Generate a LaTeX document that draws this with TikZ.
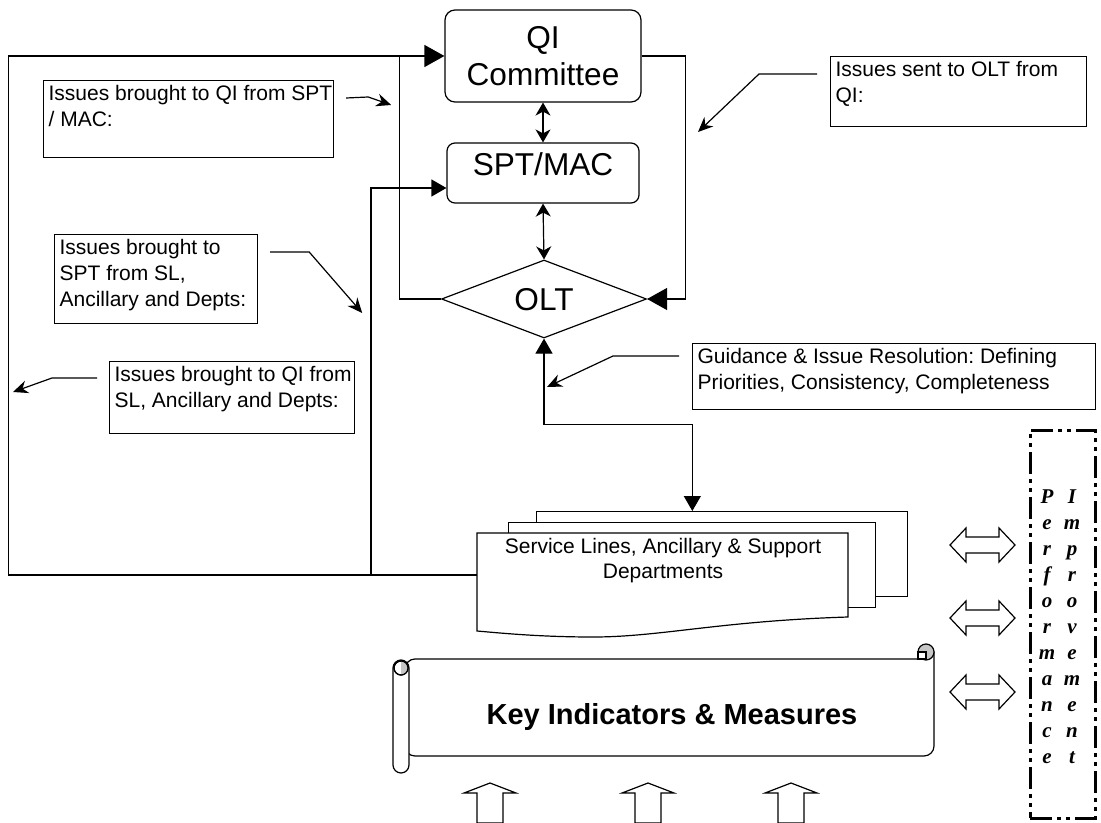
\documentclass[tikz,border=0pt]{standalone}
\usepackage{fontspec}
\setmainfont{Liberation Sans}
\newfontfamily\serifbi{Liberation Serif}
\usepackage{tikz}
\usetikzlibrary{arrows.meta, shapes.geometric, calc}
\frenchspacing

\newcommand{\notetext}[3]{\parbox[t][#2][t]{#1}{\raggedright\strut #3}}

\begin{document}
\begin{tikzpicture}[x=0.5pt, y=-0.5pt, line width=0.6pt,
  big/.tip={Triangle[length=10pt, width=11pt]},
  small/.tip={Triangle[length=7.5pt, width=8.5pt]},
  dbl/.tip={Stealth[length=6.5pt, width=7.5pt, inset=2pt]},
  callout/.tip={Stealth[length=7.5pt, width=6.5pt, inset=2.5pt]},
  unitbox/.style={draw, fill=white, inner sep=0pt, font=\fontsize{15.8}{18.5}\selectfont},
  notebox/.style={draw, anchor=north west, inner xsep=2.5pt, inner ysep=1pt, font=\fontsize{10.5}{13}\selectfont},
  lettercol/.style={align=center, inner sep=0pt, font=\serifbi\bfseries\itshape\fontsize{10.5}{13}\selectfont}]
  \path[use as bounding box, fill=white] (0,0) rectangle (1101,823);

  % committees
  \node[unitbox, rounded corners=5pt, minimum width=98pt, minimum height=46pt, align=center] (qi) at (543,56) {QI\\Committee};
  \node[unitbox, rounded corners=4pt, minimum width=96pt, text height=16.2pt, text depth=13.8pt] (spt) at (543,173) {SPT/MAC};
  \node[unitbox, diamond, minimum width=102.5pt, minimum height=39pt, text height=0pt, text depth=0pt] (olt) at (544,299) {\makebox[0pt]{\raisebox{-.5\height}{OLT}}};

  \draw[dbl-dbl] (qi.south) -- (spt.north);
  \draw[dbl-dbl] (spt.south) -- (olt.north);
  \draw[-big] (olt.west) -| ($(qi.west)+(-45,0)$) -- (qi.west);
  \draw[-big] (qi.east) -| ($(olt.east)+(38,0)$) -- (olt.east);

  % service lines (stacked documents)
  \node[unitbox, minimum width=185.5pt, minimum height=42.5pt, anchor=north west] (slback) at (536,511) {};
  \node[unitbox, minimum width=183.5pt, minimum height=42.5pt, anchor=north west] (slmid) at (508,522) {};
  \draw[fill=white] (477,533) -- (848,533) -- (848,617) .. controls (720,621) and (660,637) .. (593,637) .. controls (540,637) and (500,633) .. (477,631) -- cycle;
  \node[align=center, font=\fontsize{10.5}{12.5}\selectfont] (sl) at (663,561) {Service Lines, Ancillary \& Support\\Departments};
  \coordinate (slin) at ($(slback.north west)!.42!(slback.north east)$);
  \coordinate (sldoor) at (477,575);

  \draw[small-small] (olt.south) |- ($(olt.south)!.5!(slin)$) -| (slin);
  \draw (sldoor) -| ($(qi.west)+(-436,0)$) -- ($(qi.west)+(-45,0)$);
  \draw[-small] ($(sldoor)+(-106,0)$) |- ([yshift=-7.5pt]spt.west);

  % notes
  \node[notebox] (qinote) at (43,80) {\notetext{140pt}{36.5pt}{\mbox{Issues brought to QI from SPT}\\/ MAC:}};
  \node[notebox] (oltnote) at (830,56) {\notetext{123pt}{33pt}{Issues sent to OLT from\\QI:}};
  \node[notebox] (sptnote) at (54,234) {\notetext{96.5pt}{42.5pt}{Issues brought to\\SPT from SL,\\Ancillary and Depts:}};
  \node[notebox] (slnote) at (109,361) {\notetext{117.5pt}{34pt}{\mbox{Issues brought to QI from}\\SL, Ancillary and Depts:}};
  \node[notebox] (guide) at (692,343) {\notetext{196.5pt}{31pt}{Guidance \& Issue Resolution: Defining\\Priorities, Consistency, Completeness}};

  \draw[-callout] ([shift={(12,18)}]qinote.north east) -- ++(22,-1) -- ++(23,8);
  \draw[-callout] ([shift={(-13,18)}]oltnote.north west) -- ++(-58,0) -- ++(-61,58);
  \draw[-callout] ([shift={(12,18)}]sptnote.north east) -- ++(39,0) -- ++(53,61);
  \draw[-callout] ([shift={(-12,17)}]slnote.north west) -- ++(-45,0) -- ++(-39,14);
  \draw[-callout] ([shift={(-13,13)}]guide.north west) -- ++(-66,0) -- ++(-66,31);

  % scroll
  \draw[fill=white] (405,659) -- (918,659) -- (918,652) -- (934,652) [rounded corners=5pt] -- (934,756) -- (405,756) -- cycle;
  \draw[fill=gray!45] (926,652) circle[radius=4pt];
  \draw[fill=white] (918,659) rectangle (926,652);
  \draw[fill=white, rounded corners=4pt] (393,660) rectangle (409,773);
  \draw[fill=white] (401,668) circle[radius=3.5pt];
  \fill[gray!45] (401,661) arc[start angle=90, end angle=-90, radius=3.5pt] -- cycle;
  \draw (401,668) circle[radius=3.5pt];
  \node[font=\bfseries\fontsize{14.5}{17}\selectfont] (kim) at (672,717) {Key Indicators \& Measures};

  \foreach \cx in {490,648,791}
    \draw (\cx,783) -- ++(26,10) -- ++(-13,0) -- ++(0,30) -- ++(-26,0) -- ++(0,-30) -- ++(-13,0) -- cycle;

  % performance improvement
  \foreach \cy in {545,618,692}
    \draw (950,\cy) -- ++(16,-17) -- ++(0,9) -- ++(33,0) -- ++(0,-9) -- ++(16,17) -- ++(-16,17) -- ++(0,-9) -- ++(-33,0) -- ++(0,9) -- cycle;
  \node[draw, line width=1.5pt, dash pattern=on 11pt off 2.5pt on 2pt off 2.5pt on 2pt off 2.5pt, minimum width=32.5pt, minimum height=194pt] (pibox) at (1062.5,624) {};
  \node[lettercol] (perf) at (1047,627) {P\\e\\r\\f\\o\\r\\m\\a\\n\\c\\e};
  \node[lettercol] (impr) at (1072,627) {I\\m\\p\\r\\o\\v\\e\\m\\e\\n\\t};
\end{tikzpicture}
\end{document}
